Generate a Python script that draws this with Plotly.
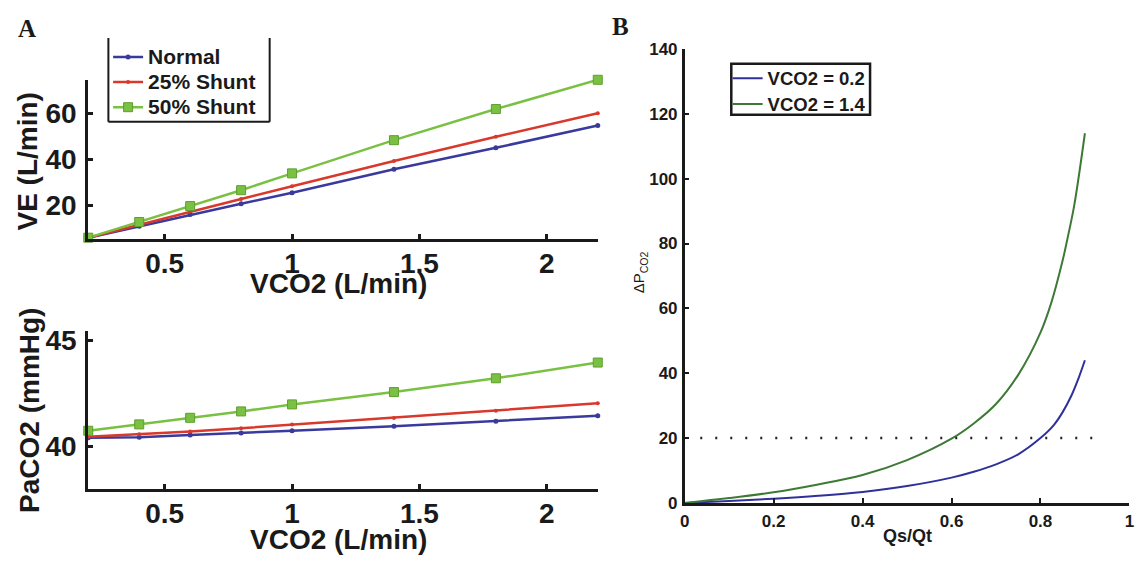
import plotly.graph_objects as go

W, H = 1143, 569

# ---------------- data ----------------
vco2 = [0.2, 0.4, 0.6, 0.8, 1.0, 1.4, 1.8, 2.2]
ve_normal = [6, 11, 16, 20.7, 25.5, 35.7, 45, 54.7]
ve_shunt25 = [6, 11.7, 17.3, 22.8, 28.3, 39.3, 49.8, 60]
ve_shunt50 = [6, 12.8, 19.7, 26.6, 33.9, 48.3, 61.8, 74.5]

paco2_normal = [40.4, 40.43, 40.53, 40.62, 40.73, 40.94, 41.18, 41.44]
paco2_shunt25 = [40.45, 40.57, 40.7, 40.85, 41.02, 41.33, 41.67, 42.02]
paco2_shunt50 = [40.73, 41.03, 41.34, 41.64, 41.97, 42.55, 43.2, 43.94]

qsqt_low = [0, 0.1, 0.2, 0.3, 0.4, 0.5, 0.6, 0.65, 0.7, 0.75, 0.8, 0.83, 0.85, 0.87, 0.885, 0.9]
dpco2_low = [0, 0.6, 1.3, 2.2, 3.4, 5.2, 7.8, 9.6, 11.9, 15, 20, 24, 28, 33.2, 38.2, 44]
qsqt_high = [0, 0.1, 0.2, 0.3, 0.4, 0.5, 0.6, 0.65, 0.7, 0.75, 0.8, 0.825, 0.85, 0.86, 0.875, 0.886, 0.9]
dpco2_high = [0, 1.5, 3.3, 5.7, 8.6, 13.2, 19.8, 24.5, 30.5, 39.5, 52.5, 62, 74.8, 81, 91, 100.5, 114]

threshold_x = [0.035, 0.925]
threshold_y = [20, 20]

ve_ticks = [20, 40, 60]
paco2_ticks = [40, 45]
vco2_ticks = [0.5, 1, 1.5, 2]
qs_ticks = [0, 0.2, 0.4, 0.6, 0.8, 1]
dp_ticks = [0, 20, 40, 60, 80, 100, 120, 140]

# ---------------- style ----------------
SANS = "Liberation Sans, Arial, sans-serif"
SERIF = "Liberation Serif, Times New Roman, serif"
BLUE = "#3a3a9e"
RED = "#d9382c"
GREEN = "#7ac143"
B_BLUE = "#30309a"
B_GREEN = "#3d7a35"
AX = "#1a1a1a"


def px(x):
    return x / W


def py(y):
    return 1 - y / H


fig = go.Figure()

series = [
    ("Normal", ve_normal, paco2_normal, BLUE, dict(symbol="circle", size=5)),
    ("25% Shunt", ve_shunt25, paco2_shunt25, RED, dict(symbol="circle", size=4)),
    ("50% Shunt", ve_shunt50, paco2_shunt50, GREEN,
     dict(symbol="square", size=9, line=dict(color="#5f9e2f", width=1))),
]
for name, ve, pa, col, mk in series:
    fig.add_trace(go.Scatter(x=vco2, y=ve, mode="lines+markers",
                             name='<span style="font-size:21px">%s</span>' % name,
                             line=dict(color=col, width=2.5), marker=dict(color=col, **mk),
                             xaxis="x", yaxis="y", legend="legend", cliponaxis=False))
for name, ve, pa, col, mk in series:
    fig.add_trace(go.Scatter(x=vco2, y=pa, mode="lines+markers", name=name,
                             line=dict(color=col, width=2.5), marker=dict(color=col, **mk),
                             xaxis="x2", yaxis="y2", showlegend=False, cliponaxis=False))

fig.add_trace(go.Scatter(x=qsqt_low, y=dpco2_low, mode="lines",
                         name='<span style="font-size:18.5px">VCO2 = 0.2</span>',
                         line=dict(color=B_BLUE, width=2, shape="spline", smoothing=1),
                         xaxis="x3", yaxis="y3", legend="legend2"))
fig.add_trace(go.Scatter(x=qsqt_high, y=dpco2_high, mode="lines",
                         name='<span style="font-size:18.5px">VCO2 = 1.4</span>',
                         line=dict(color=B_GREEN, width=2, shape="spline", smoothing=1),
                         xaxis="x3", yaxis="y3", legend="legend2"))
fig.add_trace(go.Scatter(x=threshold_x, y=threshold_y, mode="lines", showlegend=False,
                         line=dict(color="#222222", width=2.5, dash="2px,13px"),
                         xaxis="x3", yaxis="y3"))

bold = dict(family=SANS, color="#1a1a1a", weight="bold")


def axis_a(domain, rng, ticks, anchor, standoff):
    return dict(domain=domain, range=rng, tickvals=ticks, anchor=anchor,
                showline=True, linewidth=3, linecolor=AX, ticks="inside", ticklen=5,
                tickwidth=2.5, tickcolor=AX, showgrid=False, zeroline=False,
                tickfont=dict(size=28, **bold), ticklabelstandoff=standoff)


def axis_b(domain, rng, ticks, anchor):
    return dict(domain=domain, range=rng, tickvals=ticks, anchor=anchor,
                showline=True, linewidth=2.5, linecolor=AX, ticks="inside", ticklen=5,
                tickwidth=2, tickcolor=AX, showgrid=False, zeroline=False,
                tickfont=dict(size=17, **bold), ticklabelstandoff=1)


def label(text, x, y, size, angle=0, fam=SANS, weight="bold"):
    return dict(text=text, x=px(x), y=py(y), xref="paper", yref="paper", showarrow=False,
                xanchor="center", yanchor="middle", textangle=angle,
                font=dict(family=fam, size=size, color="#1a1a1a", weight=weight))


fig.update_layout(
    width=W, height=H, margin=dict(l=0, r=0, t=0, b=0),
    paper_bgcolor="white", plot_bgcolor="white",
    xaxis=axis_a([px(84), px(598)], [0.2, 2.2], vco2_ticks, "y", -3),
    yaxis=axis_a([py(238), py(73)], [5.4, 74.6], ve_ticks, "x", 3),
    xaxis2=axis_a([px(84), px(598)], [0.2, 2.2], vco2_ticks, "y2", -3),
    yaxis2=axis_a([py(497), py(333)], [37.97, 45.43], paco2_ticks, "x2", 3),
    xaxis3=axis_b([px(685.7), px(1134.3)], [0, 1], qs_ticks, "y3"),
    yaxis3=axis_b([py(511), py(41.3)], [0, 140], dp_ticks, "x3"),
    legend=dict(x=px(104), y=py(31.5), xanchor="left", yanchor="top",
                bgcolor="rgba(255,255,255,0)", borderwidth=0,
                font=dict(size=17, **bold), tracegroupgap=0),
    legend2=dict(x=px(729), y=py(53.1), xanchor="left", yanchor="top",
                 bgcolor="rgba(255,255,255,0)", borderwidth=0,
                 font=dict(size=17.5, **bold), tracegroupgap=0),
    annotations=[
        label("A", 22, 20, 25, fam=SERIF),
        label("B", 621, 18, 25, fam=SERIF),
        label("VCO2 (L/min)", 336, 284, 28),
        label("VCO2 (L/min)", 336, 549, 28),
        label("VE (L/min)", 23, 158, 28, angle=-90),
        label("PaCO2 (mmHg)", 24, 415, 28, angle=-90),
        label("Qs/Qt", 910, 545, 18),
        label("ΔP<sub>CO2</sub>", 641, 272, 15, angle=-90, weight="normal"),
    ],
    shapes=[
        dict(type="line", xref="paper", yref="paper", x0=px(104.3), x1=px(104.3), y0=py(30), y1=py(116.7),
             line=dict(color=AX, width=2)),
        dict(type="line", xref="paper", yref="paper", x0=px(267), x1=px(267), y0=py(30), y1=py(116.7),
             line=dict(color=AX, width=2)),
        dict(type="line", xref="paper", yref="paper", x0=px(104.3), x1=px(267), y0=py(116.7), y1=py(116.7),
             line=dict(color=AX, width=2)),
        dict(type="rect", xref="paper", yref="paper", x0=px(732.7), x1=px(872.7), y0=py(109.3), y1=py(56.7),
             line=dict(color=AX, width=2.5)),
    ],
)

fig.write_html("out.html")
